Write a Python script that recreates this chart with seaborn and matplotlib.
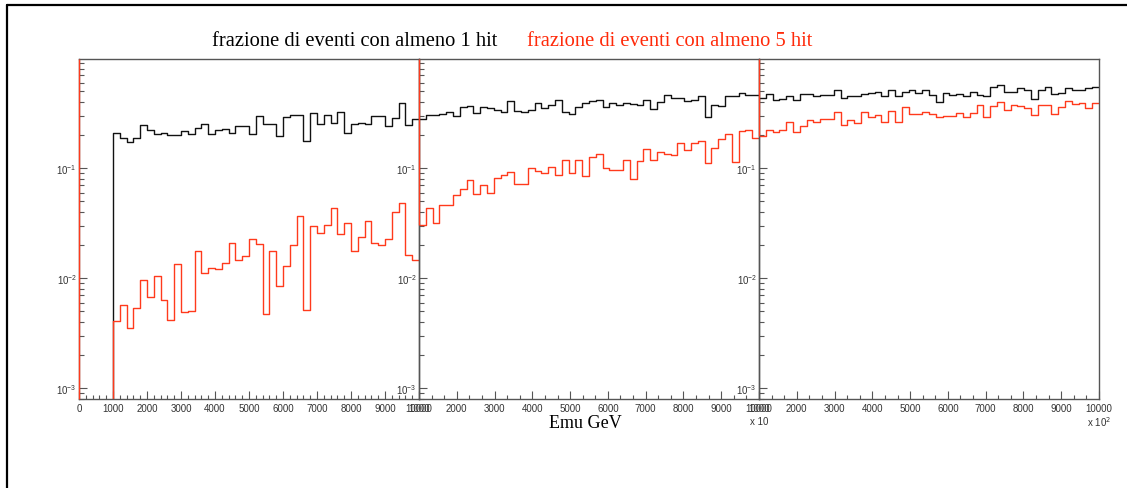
import numpy as np
import pandas as pd
import matplotlib
matplotlib.use("Agg")
import matplotlib.pyplot as plt
from matplotlib.lines import Line2D
from matplotlib.ticker import (MultipleLocator, LogLocator, LogFormatterSciNotation,
                               NullFormatter, FixedLocator)
import seaborn as sns

# ---- data: fraction of events per energy bin (50 bins per panel) ----
edges_low = np.linspace(0, 10000, 51)        # GeV
edges_mid = np.linspace(1000, 10000, 51)     # x 10 GeV
edges_high = np.linspace(1000, 10000, 51)    # x 100 GeV

hit1_low = [0, 0, 0, 0, 0,
            0.21, 0.19, 0.172, 0.19, 0.249,
            0.225, 0.206, 0.21, 0.202, 0.202,
            0.218, 0.207, 0.232, 0.252, 0.203,
            0.223, 0.23, 0.209, 0.242, 0.242,
            0.204, 0.296, 0.252, 0.255, 0.195,
            0.29, 0.305, 0.305, 0.178, 0.32,
            0.252, 0.305, 0.26, 0.327, 0.21,
            0.252, 0.26, 0.252, 0.296, 0.296,
            0.242, 0.288, 0.395, 0.245, 0.278]
hit5_low = [0, 0, 0, 0, 0,
            0.0041, 0.0057, 0.0035, 0.0054, 0.0096,
            0.0067, 0.0106, 0.0063, 0.0042, 0.0135,
            0.0049, 0.0050, 0.0176, 0.0112, 0.0124,
            0.0122, 0.0138, 0.021, 0.0147, 0.0158,
            0.0226, 0.0205, 0.0047, 0.0176, 0.0085,
            0.013, 0.020, 0.037, 0.0052, 0.0297,
            0.0258, 0.0306, 0.044, 0.0255, 0.0316,
            0.0176, 0.0239, 0.033, 0.0208, 0.0202,
            0.0226, 0.040, 0.0485, 0.0164, 0.0147]

hit1_mid = [0.28, 0.303, 0.303, 0.31, 0.322,
            0.296, 0.363, 0.37, 0.32, 0.363,
            0.35, 0.34, 0.322, 0.41, 0.335,
            0.328, 0.34, 0.389, 0.35, 0.375,
            0.417, 0.328, 0.31, 0.363, 0.395,
            0.407, 0.417, 0.363, 0.389, 0.375,
            0.395, 0.385, 0.373, 0.417, 0.345,
            0.40, 0.463, 0.44, 0.44, 0.41,
            0.417, 0.453, 0.295, 0.375, 0.37,
            0.45, 0.458, 0.487, 0.463, 0.468]
hit5_mid = [0.0306, 0.0437, 0.0319, 0.0461, 0.0461,
            0.0569, 0.0655, 0.078, 0.059, 0.070,
            0.060, 0.0824, 0.0865, 0.093, 0.0727,
            0.0727, 0.0996, 0.0948, 0.0897, 0.103,
            0.0865, 0.1186, 0.091, 0.1186, 0.0853,
            0.127, 0.136, 0.0996, 0.0975, 0.0975,
            0.1186, 0.0807, 0.117, 0.151, 0.1186,
            0.141, 0.136, 0.132, 0.171, 0.146,
            0.169, 0.178, 0.112, 0.154, 0.183,
            0.203, 0.115, 0.22, 0.222, 0.19]

hit1_high = [0.44, 0.473, 0.417, 0.425, 0.455,
             0.417, 0.473, 0.473, 0.455, 0.46,
             0.46, 0.515, 0.44, 0.45, 0.455,
             0.473, 0.48, 0.49, 0.455, 0.52,
             0.45, 0.495, 0.515, 0.48, 0.515,
             0.465, 0.403, 0.48, 0.465, 0.473,
             0.455, 0.49, 0.465, 0.453, 0.544,
             0.575, 0.495, 0.49, 0.54, 0.51,
             0.43, 0.51, 0.55, 0.47, 0.48,
             0.54, 0.52, 0.51, 0.54, 0.55]
hit5_high = [0.196, 0.222, 0.212, 0.222, 0.261,
             0.215, 0.244, 0.274, 0.265, 0.278,
             0.278, 0.322, 0.25, 0.274, 0.258,
             0.327, 0.295, 0.305, 0.265, 0.33,
             0.265, 0.363, 0.31, 0.31, 0.322,
             0.31, 0.295, 0.30, 0.30, 0.315,
             0.295, 0.315, 0.375, 0.295, 0.37,
             0.403, 0.34, 0.38, 0.37, 0.355,
             0.305, 0.375, 0.375, 0.31, 0.36,
             0.407, 0.385, 0.395, 0.35, 0.395]

x_ticks_low = list(range(0, 10001, 1000))
x_ticks_rest = list(range(1000, 10001, 1000))
multipliers = [None, r"x 10", r"x 10$^{2}$"]

title_1 = "frazione di eventi con almeno 1 hit"
title_5 = "frazione di eventi con almeno 5 hit"
x_title = "Emu GeV"

BLACK = "#111111"
RED = "#ff3a1c"
FRAME = "#555555"
YLIM = (8.0e-4, 0.985)

sns.set_style("white")
plt.rcParams["font.family"] = ["Liberation Sans", "DejaVu Sans"]

fig = plt.figure(figsize=(11.27, 4.89), dpi=100)
W, H = 1127, 489

panels = [
    (edges_low, hit1_low, hit5_low, x_ticks_low, 200),
    (edges_mid, hit1_mid, hit5_mid, x_ticks_rest, 1000 / 3),
    (edges_high, hit1_high, hit5_high, x_ticks_rest, 1000 / 3),
]

left0, pw, top, bottom = 79, 340, 60, 400
for i, (edges, h1, h5, xt, minor) in enumerate(panels):
    ax = fig.add_axes([(left0 + i * pw) / W, 1 - bottom / H, pw / W, (bottom - top) / H])
    centers = 0.5 * (edges[:-1] + edges[1:])
    df = pd.DataFrame({"energy": centers, "hit1": h1, "hit5": h5})
    bin_list = [float(e) for e in edges]
    sns.histplot(data=df, x="energy", weights="hit1", bins=bin_list, element="step",
                 fill=False, color=BLACK, linewidth=1.0, ax=ax)
    sns.histplot(data=df, x="energy", weights="hit5", bins=bin_list, element="step",
                 fill=False, color=RED, linewidth=1.0, ax=ax)
    ax.set_yscale("log")
    ax.set_xlim(edges[0], edges[-1])
    ax.set_ylim(*YLIM)
    # leading edge of the 5-hit outline
    start = h5[0] if h5[0] > 0 else YLIM[0]
    ax.vlines(edges[0], start, YLIM[1], color=RED, linewidth=1.0, zorder=4,
              clip_on=False)

    ax.set_xlabel("")
    ax.set_ylabel("")
    ax.xaxis.set_major_locator(FixedLocator(xt))
    ax.xaxis.set_minor_locator(MultipleLocator(minor))
    ax.yaxis.set_major_locator(LogLocator(base=10, numticks=10))
    ax.yaxis.set_minor_locator(LogLocator(base=10, subs=np.arange(2, 10), numticks=20))
    ax.yaxis.set_major_formatter(LogFormatterSciNotation())
    ax.yaxis.set_minor_formatter(NullFormatter())
    ax.tick_params(axis="x", which="both", direction="in", bottom=True, top=False,
                   labelsize=7, pad=3, color=FRAME, labelcolor="#333333")
    ax.tick_params(axis="x", which="major", length=6, width=0.8)
    ax.tick_params(axis="x", which="minor", length=3, width=0.8)
    ax.tick_params(axis="y", which="both", direction="in", left=True, right=False,
                   labelsize=7, pad=1.5, color=FRAME, labelcolor="#333333")
    ax.tick_params(axis="y", which="major", length=6, width=0.8)
    ax.tick_params(axis="y", which="minor", length=3.5, width=0.8)
    for s in ax.spines.values():
        s.set_color(FRAME)
        s.set_linewidth(1.0)
    ax.set_facecolor("none")
    if multipliers[i]:
        ax.text(1.0, -0.064, multipliers[i], transform=ax.transAxes, ha="center",
                va="center", fontsize=7, color="#333333")

fig.text(497 / W, 1 - 41 / H, title_1, ha="right", va="center", fontsize=14.8,
         family="Liberation Serif", color="black")
fig.text(527 / W, 1 - 41 / H, title_5, ha="left", va="center", fontsize=14.8,
         family="Liberation Serif", color="#ff2a0a")
fig.text(585 / W, 1 - 424 / H, x_title, ha="center", va="center", fontsize=13,
         family="Liberation Serif", color="black")

# canvas border (left and top edges)
fig.add_artist(Line2D([6.5 / W, 6.5 / W], [0, 1 - 5.5 / H], color="black",
                      linewidth=1.6, transform=fig.transFigure))
fig.add_artist(Line2D([6.5 / W, 1], [1 - 5.5 / H, 1 - 5.5 / H], color="black",
                      linewidth=1.6, transform=fig.transFigure))

fig.savefig("out.png", dpi=100, facecolor="white")
